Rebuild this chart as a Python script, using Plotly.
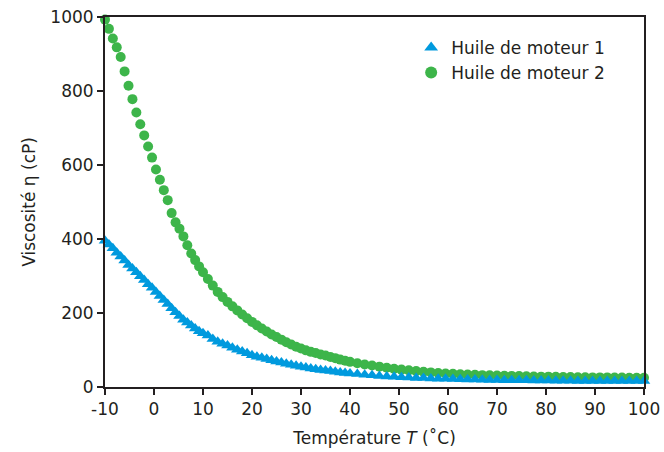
import plotly.graph_objects as go

# Temperature (°C)
temperature = [
    -10, -9.2, -8.4, -7.6, -6.8, -6, -5.2, -4.4, -3.6, -2.8, -2, -1.2, -0.4,
    0.4, 1.2, 2, 2.8, 3.6, 4.4, 5.2, 6, 6.8, 7.6, 8.4, 9.2, 10,
    11, 12, 13, 14, 15, 16, 17, 18, 19, 20, 21, 22, 23, 24, 25,
    26, 27, 28, 29, 30, 31, 32, 33, 34, 35, 36, 37, 38, 39, 40,
    41.5, 43, 44.5, 46, 47.5, 49, 50.5, 52, 53.5, 55, 56.5, 58, 59.5, 61,
    62.5, 64, 65.5, 67, 68.5, 70, 71.5, 73, 74.5, 76, 77.5, 79, 80.5, 82,
    83.5, 85, 86.5, 88, 89.5, 91, 92.5, 94, 95.5, 97, 98.5, 100,
]

# Viscosity of oil 1 (cP)
huile_1 = [
    395, 385, 375, 363, 353, 342, 330, 320, 310, 299, 289, 278, 268,
    257, 246, 235, 224, 213, 202, 192, 182, 174, 166, 158, 151, 145,
    139, 130, 122, 117, 112, 106, 101, 96, 91, 86, 82, 79, 76, 72, 69,
    66, 63, 60, 57.5, 55, 52.5, 50, 48, 46, 44.5, 43, 41, 39.5, 38, 36.5,
    35, 33, 31.5, 30, 28.5, 27.5, 26.5, 25.5, 24.5, 24, 23, 22.5, 22, 21.5,
    21, 20.5, 20, 19.5, 19, 19, 18.5, 18.5, 18, 18, 17.5, 17.5, 17.5, 17,
    17, 17, 16.5, 16.5, 16.5, 16.5, 16, 16, 16, 16, 16, 16,
]

# Viscosity of oil 2 (cP)
huile_2 = [
    993, 968, 942, 918, 892, 853, 814, 778, 742, 710, 680, 650, 620,
    588, 560, 532, 505, 470, 445, 428, 407, 383, 361, 343, 326, 310,
    292, 274, 257, 243, 230, 218, 207, 196, 186, 176, 167, 158, 150, 142, 135,
    128, 121, 115, 109, 104, 99, 95, 92, 88, 85, 81, 78, 74, 71, 68,
    64, 61, 58, 55, 52, 49, 47, 45, 43, 41, 39.5, 38, 36.5, 35.5,
    34.5, 33.5, 33, 32, 31.5, 31, 30.5, 30, 29.5, 29, 28.5, 28, 28, 27.5,
    27, 27, 26.5, 26.5, 26, 26, 26, 25.5, 25.5, 25, 25, 25,
]

x_ticks = [-10, 0, 10, 20, 30, 40, 50, 60, 70, 80, 90, 100]
y_ticks = [0, 200, 400, 600, 800, 1000]

FONT = "DejaVu Sans"
INK = "#231F20"
BLUE = "#009ADE"
GREEN = "#3DB54A"

fig = go.Figure()
fig.add_trace(go.Scatter(
    x=temperature, y=huile_2, mode="markers", name="Huile de moteur 2",
    marker=dict(symbol="circle", size=10, color=GREEN, line=dict(width=0)),
    cliponaxis=False, legendrank=2,
))
fig.add_trace(go.Scatter(
    x=temperature, y=huile_1, mode="markers", name="Huile de moteur 1",
    marker=dict(symbol="triangle-up", size=11, color=BLUE, line=dict(width=0)),
    cliponaxis=False, legendrank=1,
))

axis_common = dict(
    showline=True, linecolor=INK, linewidth=2, mirror=True,
    ticks="outside", ticklen=6, tickwidth=2, tickcolor=INK,
    showgrid=False, zeroline=False, automargin=False,
    tickfont=dict(family=FONT, size=17, color=INK),
)

fig.update_xaxes(
    range=[-10, 100], tickvals=x_ticks, ticktext=[str(v) for v in x_ticks],
    title=dict(text="Température <i>T</i> (˚C)", font=dict(family=FONT, size=17, color=INK),
               standoff=14),
    **axis_common,
)
fig.update_yaxes(
    range=[0, 1000], tickvals=y_ticks, ticktext=[str(v) for v in y_ticks],
    title=dict(text="Viscosité η (cP)", font=dict(family=FONT, size=17, color=INK),
               standoff=10),
    **axis_common,
)

fig.update_layout(
    width=664, height=452,
    margin=dict(l=105, r=20, t=17, b=65),
    paper_bgcolor="white", plot_bgcolor="white",
    showlegend=True,
    legend=dict(
        x=0.568, y=0.965, xanchor="left", yanchor="top",
        font=dict(family=FONT, size=17, color=INK),
        bgcolor="rgba(0,0,0,0)", itemsizing="constant",
        tracegroupgap=0,
    ),
)

fig.write_html(
    "out.html",
    config={"displayModeBar": False},
    post_script="document.body.style.margin='0';document.body.style.overflow='hidden';",
)
